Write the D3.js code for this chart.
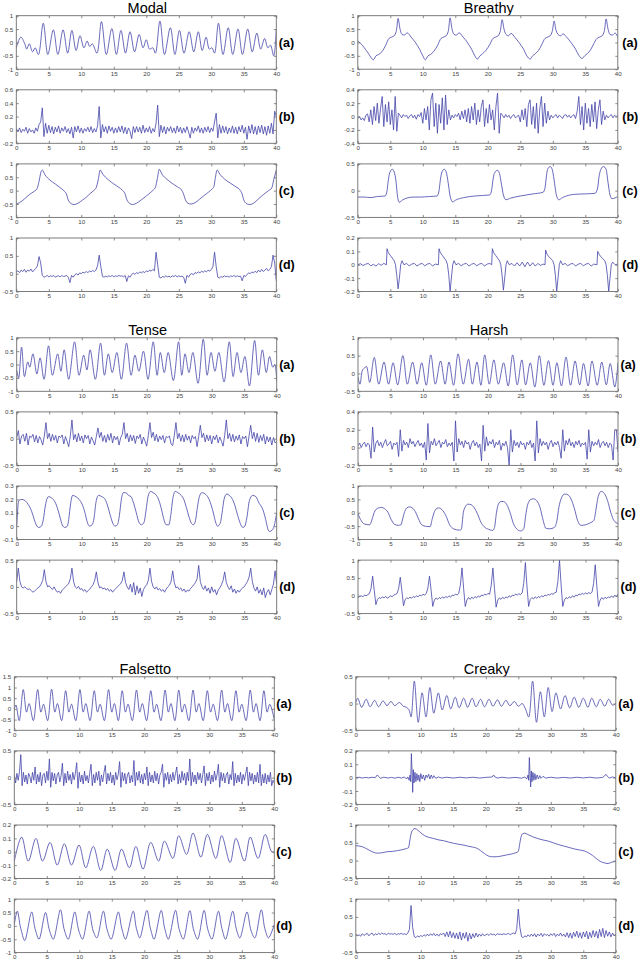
<!DOCTYPE html>
<html><head><meta charset="utf-8">
<script src="https://cdn.jsdelivr.net/npm/d3@7"></script>
<style>body{margin:0;background:#fff}svg{display:block}</style>
</head><body><svg id="c" width="640" height="964"></svg>
<script>
const xTicks = [0,5,10,15,20,25,30,35,40];
const groupTitles = ["Modal","Breathy","Tense","Harsh","Falsetto","Creaky"];
const panelLabels = ["(a)","(b)","(c)","(d)"];

const modalTicks = [[-1,-0.5,0,0.5,1],[-0.2,0,0.2,0.4,0.6],[-1,-0.5,0,0.5,1],[-0.5,0,0.5,1]];
const breathyTicks = [[-1,-0.5,0,0.5,1],[-0.4,-0.2,0,0.2,0.4],[-0.5,0,0.5],[-0.2,-0.1,0,0.1,0.2]];
const tenseTicks = [[-1,-0.5,0,0.5,1],[-0.5,0,0.5],[-0.1,0,0.1,0.2,0.3],[-0.5,0,0.5]];
const harshTicks = [[-0.5,0,0.5,1],[-0.2,0,0.2,0.4],[-1,-0.5,0,0.5,1],[-0.5,0,0.5,1]];
const falsettoTicks = [[-1,-0.5,0,0.5,1,1.5],[-0.5,0,0.5],[-0.2,-0.1,0,0.1,0.2],[-1,-0.5,0,0.5,1]];
const creakyTicks = [[-0.5,0,0.5],[-0.2,-0.1,0,0.1,0.2],[-0.5,0,0.5,1],[-0.5,0,0.5,1]];

// ---- Modal ----
const modalA = [[0,-0.2],[0.7,0.2],[1.3,-0.05],[1.6,-0.25],[2.0,-0.05],[2.5,-0.35],[2.9,-0.2],[3.4,-0.45],[4.15,0.72],[4.85,-0.45],[5.7,0.47],[6.4,-0.45],[7.2,0.47],[7.9,-0.4],[8.55,0.45],[9.2,-0.3],[9.8,0.25],[10.4,-0.2],[10.9,0.05],[11.3,-0.15],[11.7,-0.05],[12.4,-0.4],[13.1,0.78],[13.85,-0.45],[14.7,0.52],[15.4,-0.45],[16.1,0.45],[16.8,-0.4],[17.5,0.4],[18.2,-0.35],[18.9,0.3],[19.5,-0.2],[20.0,0.1],[20.5,-0.25],[21.0,-0.2],[21.4,-0.4],[22.1,0.8],[22.8,-0.45],[23.7,0.55],[24.4,-0.45],[25.1,0.45],[25.8,-0.4],[26.6,0.4],[27.3,-0.35],[28.0,0.4],[28.6,-0.3],[29.2,0.2],[29.7,-0.25],[30.1,-0.2],[30.5,-0.4],[31.1,0.72],[31.8,-0.45],[32.6,0.55],[33.3,-0.45],[34.1,0.5],[34.8,-0.45],[35.6,0.5],[36.3,-0.35],[37.0,0.35],[37.6,-0.25],[38.2,0.15],[38.7,-0.2],[39.1,-0.1],[39.6,-0.5],[40,0.5]];
const modalB = [0.02,-0.03,0.03,-0.04,0.01,-0.02,0.04,-0.05,0.02,-0.03,
0.0,-0.05,0.03,-0.02,0.08,0.12,0.33,-0.1,0.1,-0.05,
0.07,-0.04,0.05,-0.06,0.04,-0.03,0.06,-0.05,0.03,-0.02,
0.05,-0.04,0.02,-0.06,0.04,-0.12,0.05,-0.03,0.06,-0.04,
0.03,-0.05,0.02,-0.02,0.04,-0.03,0.05,-0.04,0.02,-0.03,
0.06,0.35,-0.12,0.08,-0.03,0.05,-0.05,0.06,-0.02,0.04,
-0.05,0.03,-0.04,0.05,-0.03,0.06,-0.05,0.04,-0.06,0.03,
-0.02,-0.13,0.05,-0.04,0.05,-0.03,0.04,-0.05,0.07,-0.04,
0.03,-0.03,0.05,-0.05,0.02,-0.03,0.1,0.37,-0.1,0.07,
-0.04,0.05,-0.06,0.04,-0.02,0.05,-0.04,0.03,-0.05,0.06,
-0.03,0.04,-0.05,0.03,-0.04,0.05,-0.03,-0.12,0.04,-0.05,
0.03,-0.02,0.06,-0.04,0.03,-0.05,0.04,-0.03,0.05,-0.04,
0.03,-0.02,0.12,0.25,-0.12,0.08,-0.05,0.06,-0.04,0.05,
-0.06,0.03,-0.04,0.06,-0.05,0.04,-0.06,0.05,-0.03,0.07,
-0.05,0.04,-0.14,0.06,-0.05,0.08,-0.06,0.05,-0.07,0.06,
-0.04,0.07,-0.06,0.05,-0.08,0.06,-0.05,0.1,-0.06,0.28,
0.2];
const modalC = [[0,-0.49],[0.5,-0.45],[1.3,-0.3],[2.0,-0.15],[2.6,-0.05],[3.2,0.08],[3.5,0.35],[3.8,0.7],[4.0,0.77],[4.4,0.6],[5.2,0.39],[6.0,0.25],[6.7,0.12],[7.3,0.0],[7.7,-0.12],[8.0,-0.35],[8.4,-0.48],[8.9,-0.52],[9.5,-0.47],[10.2,-0.35],[10.8,-0.24],[11.4,-0.1],[11.9,0.0],[12.3,0.12],[12.6,0.4],[12.9,0.77],[13.3,0.62],[14.2,0.4],[15.0,0.25],[15.8,0.12],[16.3,0.02],[16.7,-0.1],[17.0,-0.33],[17.4,-0.47],[17.9,-0.52],[18.5,-0.47],[19.2,-0.35],[19.9,-0.22],[20.6,-0.08],[21.1,0.03],[21.4,0.12],[21.7,0.45],[22.0,0.8],[22.4,0.62],[23.2,0.42],[24.0,0.27],[24.8,0.14],[25.4,0.03],[25.7,-0.1],[26.0,-0.33],[26.4,-0.47],[26.9,-0.5],[27.5,-0.45],[28.2,-0.32],[28.9,-0.18],[29.6,-0.05],[30.1,0.06],[30.4,0.15],[30.6,0.45],[30.9,0.77],[31.3,0.62],[32.1,0.42],[33.0,0.27],[33.8,0.14],[34.4,0.03],[34.7,-0.1],[35.0,-0.35],[35.4,-0.48],[35.9,-0.52],[36.5,-0.47],[37.2,-0.32],[38.0,-0.15],[38.8,0.0],[39.3,0.1],[39.6,0.4],[40,0.77]];
const modalD = [0.05,0.08,0.03,0.1,0.06,0.12,0.04,0.1,0.07,0.13,
0.05,0.1,0.15,0.22,0.48,0.3,-0.05,-0.1,-0.08,-0.05,
-0.09,-0.06,-0.08,-0.05,-0.1,-0.07,-0.06,-0.09,-0.05,-0.08,
-0.07,-0.05,-0.1,-0.25,-0.05,-0.1,-0.03,0.0,-0.04,0.02,
0.0,0.04,0.02,0.06,0.03,0.07,0.05,0.09,0.06,0.1,
0.22,0.52,0.2,-0.08,-0.1,-0.07,-0.09,-0.06,-0.08,-0.05,
-0.09,-0.06,-0.08,-0.05,-0.07,-0.06,-0.09,-0.05,-0.22,-0.06,
-0.1,-0.02,0.01,-0.02,0.03,0.0,0.05,0.02,0.06,0.03,
0.08,0.05,0.1,0.07,0.12,0.08,0.6,0.25,-0.1,-0.12,
-0.08,-0.1,-0.06,-0.09,-0.07,-0.1,-0.06,-0.08,-0.05,-0.09,
-0.06,-0.08,-0.07,-0.1,-0.27,-0.05,-0.1,-0.02,0.0,-0.03,
0.03,0.01,0.05,0.02,0.07,0.04,0.08,0.05,0.1,0.07,
0.12,0.2,0.6,0.2,-0.1,-0.12,-0.08,-0.1,-0.06,-0.09,
-0.07,-0.1,-0.06,-0.08,-0.05,-0.09,-0.06,-0.08,-0.07,-0.2,
-0.05,-0.08,-0.02,0.02,0.0,0.05,0.02,0.07,0.03,0.1,
0.05,0.12,0.06,0.1,0.15,0.08,0.12,0.2,0.52,0.3,
-0.2];

// ---- Breathy ----
const breathyA = [[0,0.05],[0.5,-0.05],[1.0,-0.2],[1.6,-0.4],[2.0,-0.55],[2.4,-0.65],[2.8,-0.5],[3.2,-0.45],[3.7,-0.35],[4.3,-0.1],[4.8,0.15],[5.2,0.2],[5.6,0.25],[5.9,0.4],[6.2,0.9],[6.5,0.5],[6.8,0.3],[7.2,0.28],[7.6,0.36],[8.2,0.2],[8.8,0.02],[9.5,-0.25],[10.0,-0.5],[10.4,-0.65],[10.8,-0.5],[11.2,-0.45],[11.7,-0.33],[12.3,-0.1],[12.8,0.15],[13.2,0.2],[13.6,0.25],[13.9,0.4],[14.2,0.92],[14.5,0.5],[14.8,0.3],[15.2,0.28],[15.6,0.36],[16.2,0.2],[16.8,0.02],[17.5,-0.25],[18.0,-0.5],[18.4,-0.62],[18.8,-0.5],[19.2,-0.42],[19.7,-0.3],[20.3,-0.08],[20.8,0.15],[21.2,0.2],[21.6,0.25],[21.9,0.4],[22.2,0.85],[22.5,0.5],[22.8,0.3],[23.2,0.25],[23.6,0.34],[24.2,0.18],[24.8,0.0],[25.5,-0.25],[26.0,-0.5],[26.5,-0.62],[26.9,-0.5],[27.3,-0.42],[27.8,-0.3],[28.3,-0.08],[28.8,0.15],[29.2,0.2],[29.6,0.25],[29.9,0.4],[30.2,0.8],[30.5,0.45],[30.8,0.3],[31.2,0.25],[31.6,0.32],[32.2,0.18],[32.8,0.0],[33.5,-0.25],[34.0,-0.48],[34.5,-0.6],[34.9,-0.5],[35.3,-0.42],[35.8,-0.28],[36.3,-0.05],[36.8,0.15],[37.2,0.2],[37.6,0.25],[37.9,0.4],[38.2,0.88],[38.5,0.5],[38.8,0.3],[39.2,0.28],[39.6,0.35],[40,0.2]];
const breathyB = [-0.03,0.0,-0.05,-0.02,-0.06,0.02,0.04,-0.08,0.1,-0.12,
0.15,-0.06,0.2,-0.1,0.12,0.3,-0.15,0.18,-0.08,0.22,
-0.12,0.1,-0.2,0.3,-0.22,0.05,0.02,-0.02,0.03,0.0,
0.02,-0.03,0.01,0.03,-0.02,0.02,-0.04,0.03,0.0,0.06,
-0.1,0.12,-0.05,0.15,-0.2,0.25,0.35,-0.15,0.2,-0.25,
0.18,-0.1,0.28,-0.2,0.32,-0.12,0.1,-0.05,0.02,-0.02,
0.03,0.0,0.05,-0.05,0.08,-0.03,0.1,-0.08,0.12,-0.1,
0.15,-0.05,0.2,-0.12,0.1,-0.08,0.15,0.25,-0.15,0.12,
-0.1,0.18,-0.05,0.1,-0.2,0.15,0.35,-0.25,0.05,0.02,
-0.02,0.03,-0.01,0.02,-0.03,0.01,0.03,-0.02,0.0,0.02,
-0.08,0.1,-0.05,0.12,-0.15,0.18,0.25,-0.12,0.15,-0.18,
0.2,-0.25,0.12,0.3,-0.15,0.2,-0.1,0.08,-0.05,0.02,
-0.02,0.01,0.03,-0.02,0.02,0.0,-0.03,0.02,0.03,-0.01,
0.02,-0.02,0.01,0.03,-0.03,0.08,0.3,-0.12,0.15,-0.2,
0.2,-0.1,0.12,-0.15,0.18,-0.08,0.22,-0.18,0.1,0.25,
-0.12,0.08,-0.05,0.02,-0.02,0.01,0.03,-0.02,0.02,0.0,
0.02];
const breathyC = [[0,-0.12],[1,-0.12],[2,-0.13],[3,-0.11],[4.2,-0.1],[4.5,0.0],[4.7,0.2],[4.9,0.33],[5.3,0.4],[5.6,0.35],[5.9,0.15],[6.1,-0.1],[6.4,-0.22],[6.8,-0.18],[7.5,-0.14],[8.5,-0.12],[9.6,-0.12],[11,-0.11],[12.2,-0.1],[12.5,0.0],[12.7,0.2],[12.9,0.33],[13.3,0.4],[13.6,0.35],[13.9,0.15],[14.2,-0.1],[14.6,-0.21],[15.0,-0.18],[16.3,-0.13],[18,-0.1],[20.3,-0.08],[20.6,0.02],[20.8,0.2],[21.0,0.32],[21.5,0.38],[21.8,0.32],[22.1,0.12],[22.4,-0.08],[22.8,-0.17],[23.5,-0.14],[25,-0.1],[27,-0.06],[28.5,-0.03],[28.8,0.05],[29.0,0.25],[29.2,0.4],[29.6,0.45],[29.9,0.4],[30.2,0.2],[30.5,-0.05],[30.9,-0.17],[31.5,-0.13],[33.2,-0.07],[35,-0.06],[36.5,-0.05],[36.9,0.05],[37.1,0.25],[37.4,0.4],[37.8,0.45],[38.2,0.4],[38.5,0.15],[38.8,-0.08],[39.1,-0.15],[40,-0.11]];
const breathyD = [[0,0],[0.4,0.008],[0.8,-0.006],[1.2,0.004],[1.6,0.01],[2.0,-0.008],[2.4,0.003],[2.8,-0.01],[3.2,0.008],[3.6,-0.004],[4.0,0.01],[4.4,0.0],
[4.5,0.12],[4.7,0.09],[5.0,0.07],[5.3,0.05],[5.6,0.03],[5.8,0.0],[6.0,-0.08],[6.2,-0.18],[6.4,-0.1],[6.6,0.0],[6.8,0.03],[7.1,0.0],[7.5,0.01],[7.9,-0.008],[8.3,0.005],[8.7,0.01],[9.1,-0.01],[9.5,0.004],[9.9,0.01],[10.3,-0.008],[10.7,0.005],[11.1,0.01],[11.5,-0.01],[11.9,0.005],[12.4,0.0],
[12.5,0.12],[12.7,0.09],[13.0,0.07],[13.3,0.05],[13.6,0.03],[13.8,0.0],[14.0,-0.08],[14.2,-0.2],[14.4,-0.1],[14.6,0.0],[14.8,0.03],[15.1,0.0],[15.5,0.01],[15.9,-0.008],[16.3,0.005],[16.7,0.01],[17.1,-0.01],[17.5,0.004],[17.9,0.01],[18.3,-0.008],[18.7,0.005],[19.1,0.01],[19.5,-0.01],[19.9,0.005],[20.3,0.01],[20.6,0.0],
[20.7,0.12],[20.9,0.09],[21.2,0.07],[21.5,0.05],[21.8,0.03],[22.0,0.0],[22.2,-0.08],[22.4,-0.19],[22.6,-0.1],[22.8,0.0],[23.0,0.03],[23.3,0.0],[23.7,0.01],[24.1,-0.01],[24.5,0.015],[24.9,-0.01],[25.3,0.02],[25.7,-0.015],[26.1,0.02],[26.5,-0.01],[26.9,0.015],[27.3,-0.01],[27.7,0.01],[28.1,-0.005],[28.5,0.005],[28.8,0.0],
[28.9,0.11],[29.1,0.08],[29.4,0.06],[29.7,0.045],[30.0,0.03],[30.2,0.0],[30.4,-0.08],[30.6,-0.2],[30.8,-0.1],[31.0,0.0],[31.2,0.03],[31.5,0.0],[31.9,0.01],[32.3,-0.008],[32.7,0.005],[33.1,0.01],[33.5,-0.01],[33.9,0.004],[34.3,0.01],[34.7,-0.008],[35.1,0.005],[35.5,0.01],[35.9,-0.01],[36.3,0.005],[36.8,0.0],
[36.9,0.1],[37.1,0.08],[37.4,0.06],[37.7,0.045],[38.0,0.03],[38.2,0.0],[38.4,-0.08],[38.6,-0.2],[38.8,-0.1],[39.0,0.0],[39.2,0.02],[39.6,0.0],[40,0.005]];

// ---- Tense ----
const tenseA = [[0,-0.2],[0.3,-0.5],[0.75,0.65],[1.2,-0.45],[1.7,0.1],[2.0,-0.1],[2.5,0.4],[3.1,-0.35],[3.6,0.25],[4.2,-0.55],[4.9,0.7],[5.5,-0.4],[6.3,0.4],[6.8,-0.25],[7.3,0.55],[8.0,-0.55],[8.9,0.85],[9.6,-0.4],[10.3,0.35],[10.8,-0.2],[11.3,0.55],[12.1,-0.55],[12.9,0.8],[13.5,-0.4],[14.1,0.4],[14.7,-0.3],[15.4,0.45],[16.1,-0.55],[16.9,0.8],[17.6,-0.4],[18.2,0.35],[18.8,-0.25],[19.5,0.5],[20.2,-0.55],[21.0,0.85],[21.6,-0.4],[22.1,0.45],[22.7,-0.3],[23.3,0.45],[24.1,-0.6],[24.9,0.85],[25.4,-0.4],[25.9,0.4],[26.5,-0.3],[27.1,0.45],[27.9,-0.7],[28.7,0.95],[29.3,-0.4],[29.9,0.45],[30.5,-0.25],[31.1,0.45],[31.9,-0.65],[32.7,0.85],[33.3,-0.45],[33.9,0.45],[34.5,-0.3],[35.1,0.3],[35.8,-0.8],[36.6,0.9],[37.2,-0.4],[37.8,0.55],[38.4,-0.3],[38.9,0.3],[39.4,-0.1],[39.7,0.0],[40,-0.6]];
const tenseB = [0.02,0.15,-0.1,0.05,0.08,-0.05,0.1,-0.12,0.05,0.02,
0.08,-0.06,0.06,-0.08,0.04,-0.02,-0.12,0.05,0.3,0.0,
0.1,-0.05,0.08,-0.03,0.06,-0.08,0.05,0.02,0.07,-0.1,
0.04,-0.05,-0.15,0.05,0.35,-0.02,0.08,-0.06,0.1,-0.04,
0.05,-0.08,0.07,0.0,0.06,-0.1,0.03,-0.04,-0.12,0.04,
0.2,0.02,0.12,-0.05,0.06,-0.07,0.08,-0.03,0.1,-0.08,
0.05,-0.02,0.04,-0.12,0.02,0.08,0.3,0.0,0.1,-0.06,
0.07,-0.04,0.06,-0.09,0.05,0.0,0.08,-0.1,0.03,-0.05,
-0.14,0.06,0.3,0.02,0.12,-0.04,0.08,-0.06,0.05,-0.02,
0.06,-0.08,0.04,0.02,0.05,-0.1,-0.13,0.06,0.3,0.0,
0.1,-0.05,0.07,-0.06,0.08,-0.03,0.05,-0.08,0.06,0.0,
0.04,-0.15,0.04,0.25,0.02,0.1,-0.06,0.07,-0.04,0.06,
-0.1,0.05,-0.02,0.07,-0.08,0.03,-0.05,-0.14,0.06,0.35,
0.0,0.1,-0.05,0.08,-0.06,0.05,-0.03,0.07,-0.1,0.04,
0.0,0.05,-0.15,0.05,0.25,0.0,0.12,-0.05,0.1,-0.07,
0.06,-0.04,0.08,-0.1,0.04,-0.06,0.03,-0.12,0.02,-0.08,
-0.05];
const tenseC = [[0,0.0],[0.15,0.12],[0.3,0.19],[0.8,0.2],[1.3,0.19],[1.8,0.16],[2.3,0.11],[2.7,0.05],[3.0,0.01],[3.4,-0.01],[3.8,0.0],[4.1,0.05],[4.4,0.15],[4.7,0.21],[4.9,0.22],[5.4,0.21],[5.9,0.18],[6.3,0.13],[6.7,0.06],[7.0,0.01],[7.4,-0.01],[7.8,0.0],[8.0,0.05],[8.3,0.17],[8.6,0.23],[9.1,0.22],[9.6,0.2],[10.1,0.16],[10.5,0.1],[10.8,0.04],[11.2,0.0],[11.6,0.01],[11.9,0.06],[12.2,0.18],[12.6,0.23],[13.1,0.22],[13.6,0.2],[14.0,0.15],[14.4,0.08],[14.8,0.02],[15.1,0.0],[15.5,0.01],[15.8,0.08],[16.1,0.2],[16.4,0.25],[16.8,0.25],[17.2,0.23],[17.6,0.22],[18.0,0.17],[18.4,0.1],[18.8,0.03],[19.2,0.01],[19.6,0.03],[19.9,0.12],[20.2,0.22],[20.6,0.26],[21.0,0.25],[21.5,0.23],[21.9,0.19],[22.3,0.12],[22.7,0.04],[23.0,0.01],[23.4,0.01],[23.7,0.08],[24.0,0.2],[24.4,0.26],[24.8,0.25],[25.3,0.23],[25.7,0.2],[26.1,0.14],[26.5,0.07],[26.9,0.02],[27.2,0.01],[27.5,0.04],[27.8,0.14],[28.1,0.22],[28.5,0.25],[29.0,0.24],[29.5,0.21],[29.9,0.16],[30.3,0.09],[30.6,0.03],[30.9,0.0],[31.3,0.02],[31.6,0.1],[31.9,0.2],[32.3,0.24],[32.7,0.23],[33.2,0.2],[33.6,0.15],[34.0,0.08],[34.4,0.02],[34.8,-0.01],[35.1,0.0],[35.4,0.06],[35.8,0.19],[36.3,0.23],[36.8,0.22],[37.3,0.17],[37.6,0.15],[37.9,0.12],[38.3,0.05],[38.7,-0.03],[38.9,-0.04],[39.3,-0.03],[39.6,0.0],[40,0.1]];
const tenseD = [0.1,0.35,0.1,0.0,-0.02,0.0,-0.03,-0.05,-0.04,-0.07,
-0.1,-0.08,-0.05,-0.02,0.0,0.05,0.12,0.32,0.1,0.0,
0.02,-0.02,-0.05,0.0,-0.06,-0.1,-0.08,-0.12,-0.06,-0.03,
0.0,0.03,0.06,0.15,0.35,0.1,0.0,-0.03,0.01,-0.05,
-0.03,-0.08,-0.05,-0.1,-0.07,-0.04,0.0,0.04,0.12,0.28,
0.08,-0.02,0.0,-0.04,-0.02,-0.06,-0.03,-0.08,-0.05,-0.1,
-0.06,-0.03,0.0,0.03,0.06,0.12,0.28,0.08,0.0,-0.05,
0.05,-0.1,0.08,-0.15,0.02,-0.12,-0.02,-0.18,-0.05,0.0,
0.04,0.12,0.35,0.1,0.0,-0.04,0.0,-0.06,-0.03,-0.08,
-0.05,-0.1,-0.04,0.0,0.03,0.1,0.3,0.08,-0.02,0.0,
-0.05,-0.02,-0.08,-0.04,-0.1,-0.06,-0.08,-0.03,0.0,0.04,
0.08,0.15,0.4,0.1,0.0,-0.05,0.02,-0.08,-0.02,-0.12,
0.0,-0.1,-0.05,-0.15,-0.06,-0.02,0.04,0.12,0.28,0.08,
0.0,-0.05,0.02,-0.1,-0.04,-0.12,-0.06,-0.1,-0.05,-0.02,
0.0,0.05,0.1,0.18,0.35,0.1,-0.02,-0.08,0.0,-0.12,
-0.05,-0.15,-0.02,-0.2,-0.1,-0.05,-0.15,-0.05,0.05,0.3,
0.05];

// ---- Harsh ----
const harshA = [[0,-0.1],[0.3,-0.3],[0.7,0.1],[1.0,0.15],[1.3,0.2],[1.8,-0.25],[2.5,0.45],[3.2,-0.3],[4.0,0.32],[4.7,-0.3],[5.4,0.3],[6.1,-0.32],[6.9,0.5],[7.6,-0.3],[8.4,0.32],[9.1,-0.3],[9.8,0.3],[10.5,-0.33],[11.2,0.52],[11.9,-0.3],[12.7,0.35],[13.4,-0.3],[14.0,0.32],[14.7,-0.33],[15.4,0.55],[16.2,-0.3],[17.0,0.4],[17.6,-0.3],[18.3,0.32],[18.9,-0.33],[19.5,0.52],[20.2,-0.3],[20.9,0.38],[21.6,-0.3],[22.4,0.3],[23.1,-0.35],[23.8,0.52],[24.5,-0.32],[25.2,0.38],[25.8,-0.32],[26.5,0.3],[27.2,-0.38],[27.9,0.5],[28.6,-0.33],[29.3,0.36],[30.0,-0.33],[30.6,0.3],[31.3,-0.35],[32.0,0.46],[32.7,-0.33],[33.4,0.35],[34.1,-0.32],[34.7,0.28],[35.4,-0.35],[36.0,0.35],[36.8,-0.33],[37.5,0.32],[38.2,-0.32],[38.8,0.28],[39.5,-0.38],[40,0.3]];
const harshB = [0.02,0.05,0.0,0.04,0.06,0.01,0.05,0.03,-0.12,0.23,
-0.05,0.05,0.08,0.02,0.06,0.0,0.05,0.09,0.02,0.04,
0.07,-0.02,0.05,0.03,0.06,-0.1,0.2,-0.04,0.08,0.03,
0.06,0.0,0.1,0.04,0.07,0.01,0.05,0.08,0.02,0.05,
0.0,0.06,-0.14,0.27,-0.06,0.07,0.03,0.1,0.02,0.05,
0.08,0.0,0.06,0.04,0.09,0.01,0.05,0.02,0.06,-0.15,
0.3,-0.05,0.1,0.03,0.07,0.0,0.08,0.04,0.06,-0.02,
0.05,0.08,0.02,0.06,0.0,0.04,-0.15,0.25,-0.04,0.12,
0.02,0.07,0.04,0.09,0.0,0.06,0.03,0.08,-0.03,0.05,
0.02,0.07,0.0,-0.2,0.2,-0.05,0.08,0.02,0.06,0.0,
0.07,0.03,0.05,-0.02,0.06,0.03,0.08,0.0,0.05,-0.15,
0.3,-0.06,0.1,0.02,0.07,0.03,0.06,-0.02,0.05,0.08,
0.01,0.06,0.03,0.07,0.0,-0.12,0.2,-0.04,0.08,0.03,
0.1,0.02,0.06,0.0,0.07,0.03,0.08,0.01,0.05,0.03,
0.06,-0.13,0.2,-0.05,0.07,0.02,0.06,0.03,0.09,0.0,
0.05,0.07,0.02,0.06,0.0,0.05,0.03,-0.14,0.2,0.2,
-0.05];
const harshC = [[0,-0.04],[0.5,-0.3],[1.0,-0.42],[1.8,-0.45],[2.1,-0.3],[2.4,-0.05],[2.8,0.13],[3.3,0.19],[3.6,0.2],[4.1,0.15],[4.6,0.02],[5.1,-0.25],[5.6,-0.43],[6.2,-0.47],[6.6,-0.45],[6.9,-0.2],[7.2,0.05],[7.5,0.18],[7.9,0.22],[8.3,0.19],[8.8,0.05],[9.3,-0.22],[9.8,-0.45],[10.5,-0.51],[11.1,-0.52],[11.4,-0.25],[11.7,0.0],[12.0,0.14],[12.4,0.18],[12.9,0.12],[13.5,-0.1],[14.1,-0.45],[14.7,-0.6],[15.6,-0.65],[15.9,-0.62],[16.2,0.0],[16.5,0.22],[16.9,0.32],[17.4,0.3],[17.9,0.18],[18.4,-0.05],[18.9,-0.35],[19.4,-0.52],[20.1,-0.62],[20.7,-0.66],[21.0,-0.55],[21.3,0.0],[21.6,0.32],[22.0,0.42],[22.4,0.42],[22.9,0.3],[23.4,0.0],[23.9,-0.4],[24.4,-0.6],[25.0,-0.68],[25.5,-0.6],[25.8,-0.1],[26.1,0.3],[26.6,0.5],[27.0,0.52],[27.5,0.45],[28.0,0.2],[28.5,-0.3],[28.9,-0.58],[29.5,-0.6],[30.2,-0.55],[30.6,-0.3],[30.9,0.2],[31.3,0.55],[31.8,0.7],[32.3,0.67],[32.8,0.5],[33.3,0.15],[33.8,-0.3],[34.3,-0.47],[35.0,-0.45],[35.7,-0.38],[36.3,-0.28],[36.6,0.1],[36.9,0.55],[37.4,0.8],[37.9,0.72],[38.4,0.45],[38.9,0.0],[39.4,-0.3],[40,-0.4]];
const harshD = [-0.05,-0.02,0.0,-0.03,0.02,0.0,0.03,0.06,0.2,0.55,
0.15,-0.25,-0.1,-0.05,-0.08,-0.03,-0.06,-0.02,-0.07,-0.04,
0.0,-0.03,0.02,0.04,0.06,0.2,0.52,0.15,-0.28,-0.1,
-0.06,-0.08,-0.04,-0.07,-0.02,-0.05,0.0,-0.03,0.02,0.0,
0.04,0.02,0.06,0.22,0.55,0.15,-0.3,-0.12,-0.06,-0.1,
-0.05,-0.08,-0.03,-0.07,-0.02,-0.05,0.0,-0.04,0.02,0.0,
0.05,0.02,0.07,0.3,0.78,0.2,-0.3,-0.12,-0.05,-0.1,
-0.04,-0.08,-0.02,-0.06,0.0,-0.04,0.02,0.0,0.05,0.02,
0.07,0.04,0.3,0.78,0.2,-0.32,-0.12,-0.06,-0.1,-0.04,
-0.08,-0.03,-0.06,0.0,-0.04,0.02,0.0,0.05,0.02,0.06,
0.03,0.08,0.35,0.93,0.25,-0.3,-0.1,-0.05,-0.09,-0.03,
-0.07,-0.02,-0.05,0.0,-0.03,0.02,0.0,0.04,0.02,0.06,
0.04,0.08,0.1,0.4,1.0,0.3,-0.3,-0.12,-0.05,-0.08,
-0.03,-0.06,0.0,-0.04,0.02,0.0,0.05,0.03,0.07,0.04,
0.08,0.05,0.09,0.06,0.1,0.35,0.87,0.25,-0.3,-0.12,
-0.05,-0.1,-0.04,-0.08,-0.03,-0.06,0.0,-0.05,0.02,-0.03,
0.05];

// ---- Falsetto ----
const falsettoA = [[0,0.0],[0.25,0.18],[0.75,-0.55],[1.38,0.9],
[1.88,-0.15],[2.28,0.25],[2.93,-0.55],[3.59,0.9],
[4.09,-0.15],[4.49,0.22],[5.12,-0.55],[5.74,0.92],
[6.24,-0.15],[6.64,0.25],[7.28,-0.55],[7.9,0.85],
[8.4,-0.15],[8.8,0.22],[9.45,-0.55],[10.1,0.9],
[10.6,-0.15],[11.0,0.25],[11.65,-0.55],[12.3,0.85],
[12.8,-0.15],[13.2,0.22],[13.85,-0.55],[14.5,0.9],
[15.0,-0.15],[15.4,0.25],[16.0,-0.55],[16.6,0.85],
[17.1,-0.15],[17.5,0.22],[18.15,-0.55],[18.8,0.88],
[19.3,-0.15],[19.7,0.25],[20.35,-0.55],[21.0,0.85],
[21.5,-0.15],[21.9,0.22],[22.55,-0.55],[23.2,0.88],
[23.7,-0.15],[24.1,0.25],[24.7,-0.55],[25.3,0.88],
[25.8,-0.15],[26.2,0.22],[26.85,-0.55],[27.5,0.88],
[28.0,-0.15],[28.4,0.25],[29.05,-0.55],[29.7,0.85],
[30.2,-0.15],[30.6,0.22],[31.25,-0.55],[31.9,0.88],
[32.4,-0.15],[32.8,0.25],[33.45,-0.55],[34.1,0.85],
[34.6,-0.15],[35.0,0.22],[35.65,-0.55],[36.3,0.88],
[36.8,-0.15],[37.2,0.25],[37.8,-0.55],[38.4,0.85],
[38.9,-0.15],[39.3,0.22],[40,-0.5]];
const falsettoB = [0.05,-0.1,0.08,-0.05,0.12,0.43,-0.15,0.1,-0.08,0.05,
-0.12,0.08,0.02,-0.1,0.1,-0.05,0.2,-0.12,0.06,-0.08,
0.1,-0.15,0.05,0.08,-0.1,0.12,-0.05,0.35,-0.18,0.1,
-0.06,0.08,-0.12,0.05,0.1,-0.08,0.04,0.27,-0.15,0.08,
-0.1,0.12,-0.05,0.06,-0.12,0.1,-0.04,0.08,0.28,-0.2,
0.1,-0.08,0.05,-0.12,0.12,-0.06,0.04,-0.1,0.08,0.25,
-0.15,0.06,-0.1,0.1,-0.05,0.12,-0.15,0.05,-0.08,0.1,
0.23,-0.12,0.08,-0.06,0.1,-0.1,0.05,-0.14,0.1,-0.04,
0.06,0.3,-0.18,0.1,-0.06,0.08,-0.12,0.05,0.1,-0.1,
0.04,-0.08,0.32,-0.15,0.1,-0.05,0.12,-0.1,0.06,-0.12,
0.08,-0.04,0.2,-0.15,0.1,-0.08,0.05,-0.1,0.12,-0.06,
0.08,-0.12,0.05,0.1,0.25,-0.18,0.08,-0.05,0.1,-0.12,
0.06,-0.08,0.1,-0.05,0.08,0.2,-0.12,0.06,-0.1,0.12,
-0.05,0.08,-0.14,0.1,-0.06,0.35,-0.15,0.1,-0.08,0.05,
-0.12,0.1,-0.04,0.08,-0.1,0.06,0.22,-0.15,0.08,-0.06,
0.1,-0.12,0.05,-0.08,0.12,-0.05,0.06,0.25,-0.18,0.1,
-0.06,0.08,-0.1,0.05,0.1,-0.12,0.06,-0.04,0.3,-0.15,
0.08,-0.1,0.05,-0.08,0.1,-0.12,0.06,-0.05,0.08,0.2,
-0.15,0.1,-0.06,0.08,-0.12,0.05,-0.08,0.1,-0.1,0.25,
-0.15,0.06,-0.1,0.08,-0.12,0.05,-0.08,0.1,-0.15,-0.05,-0.1];
const falsettoC = [[0,-0.07],[1.13,0.11],[2.15,-0.07],[3.33,0.1],[4.35,-0.07],[5.5,0.07],[6.6,-0.1],[7.7,0.06],[8.8,-0.1],[9.95,0.05],[11.0,-0.12],[12.15,0.04],[13.3,-0.14],[14.3,0.02],[15.5,-0.14],[16.5,0.02],[17.7,-0.12],[18.7,0.04],[19.8,-0.13],[21.0,0.07],[22.2,-0.07],[23.1,0.08],[24.4,-0.05],[25.3,0.12],[26.5,-0.02],[27.5,0.14],[28.7,-0.04],[29.7,0.13],[31.0,-0.05],[31.9,0.12],[33.2,-0.08],[34.1,0.1],[35.4,-0.07],[36.3,0.11],[37.5,-0.05],[38.6,0.13],[39.6,0.0],[40,0.0]];
const falsettoD = [[0,0.05],[0.46,0.55],[0.9,0.0],[1.1,-0.2],[1.6,-0.55],[2.67,0.52],[3.1,0.0],[3.3,-0.2],[3.8,-0.5],[4.8,0.5],[5.25,0.0],[5.45,-0.2],[6.0,-0.5],[7.1,0.6],[7.55,0.0],[7.75,-0.2],[8.3,-0.5],[9.3,0.52],[9.75,0.0],[9.95,-0.2],[10.5,-0.5],[11.5,0.55],[11.95,0.0],[12.15,-0.2],[12.7,-0.45],[13.7,0.55],[14.15,0.0],[14.35,-0.2],[14.9,-0.5],[16.0,0.52],[16.45,0.0],[16.65,-0.2],[17.1,-0.5],[18.3,0.55],[18.7,0.0],[18.9,-0.2],[19.3,-0.45],[20.4,0.58],[20.85,0.0],[21.05,-0.2],[21.5,-0.5],[22.6,0.58],[23.05,0.0],[23.25,-0.2],[23.7,-0.5],[24.8,0.58],[25.25,0.0],[25.45,-0.2],[26.0,-0.5],[27.0,0.57],[27.45,0.0],[27.65,-0.2],[28.2,-0.5],[29.2,0.58],[29.65,0.0],[29.85,-0.2],[30.4,-0.5],[31.4,0.55],[31.85,0.0],[32.05,-0.2],[32.5,-0.5],[33.6,0.55],[34.05,0.0],[34.25,-0.2],[34.7,-0.45],[35.8,0.52],[36.25,0.0],[36.45,-0.2],[37.0,-0.45],[38.0,0.6],[38.45,0.0],[38.65,-0.2],[39.1,-0.45],[40,0.05]];

// ---- Creaky ----
const creakyA = [[0,0.02],[0.3,0.1],[0.9,-0.07],[1.6,0.08],[2.2,-0.06],[2.9,0.06],[3.5,-0.06],[4.2,0.05],[4.8,-0.04],[5.4,0.04],[6.0,-0.04],[6.7,0.02],[7.3,-0.05],[7.8,-0.07],[8.2,-0.12],[8.5,-0.25],[9.0,0.42],[9.6,-0.35],[10.2,0.2],[10.8,-0.25],[11.4,0.3],[12.0,-0.18],[12.7,0.2],[13.3,-0.12],[14.0,0.15],[14.6,-0.1],[15.3,0.12],[15.9,-0.08],[16.6,0.1],[17.2,-0.07],[17.9,0.1],[18.5,-0.06],[19.2,0.08],[19.8,-0.06],[20.5,0.08],[21.1,-0.05],[21.8,0.07],[22.4,-0.05],[23.1,0.06],[23.7,-0.04],[24.4,0.04],[25.0,-0.05],[25.6,0.0],[26.1,-0.1],[26.6,-0.25],[27.2,0.42],[27.8,-0.35],[28.4,0.22],[29.0,-0.25],[29.6,0.3],[30.2,-0.15],[30.8,0.2],[31.5,-0.1],[32.2,0.15],[32.9,-0.08],[33.6,0.12],[34.3,-0.07],[35.0,0.1],[35.7,-0.07],[36.3,0.1],[37.0,-0.06],[37.6,0.08],[38.3,-0.05],[38.9,0.08],[39.5,-0.03],[40,0.0]];
const creakyB = [[0,0],[0.5,0.003],[1,-0.003],[1.5,0.002],[2,-0.002],[2.5,0.003],[3,0.0],[3.3,0.02],[3.5,0.01],[3.8,-0.005],[4.3,0.003],[5,-0.003],[5.5,0.002],[6,-0.004],[6.5,0.003],[7,-0.003],[7.5,0.005],[7.8,-0.01],[8.0,0.005],[8.2,-0.02],[8.35,0.02],[8.45,-0.03],[8.55,0.18],[8.65,0.05],[8.75,-0.11],[8.85,0.06],[8.95,-0.04],[9.1,0.04],[9.25,-0.03],[9.4,0.03],[9.55,-0.02],[9.7,0.02],[9.85,-0.03],[10.0,0.03],[10.2,-0.01],[10.4,0.02],[10.6,-0.02],[10.8,0.02],[11.0,0.0],[11.2,0.025],[11.4,-0.01],[11.6,0.02],[11.8,-0.005],[12.0,0.015],[12.3,-0.005],[12.7,0.005],[13.2,-0.003],[14,0.003],[15,-0.003],[16,0.003],[17,-0.002],[18,0.003],[19,-0.003],[20,0.002],[21,0.005],[21.2,0.02],[21.4,0.005],[21.8,-0.003],[22.5,0.003],[23.5,-0.003],[24.5,0.002],[25.5,-0.004],[26,0.005],[26.3,-0.01],[26.5,0.02],[26.6,-0.02],[26.7,0.15],[26.8,0.03],[26.9,-0.07],[27.0,0.05],[27.1,-0.03],[27.25,0.04],[27.4,-0.02],[27.55,0.03],[27.7,-0.015],[27.9,0.02],[28.1,-0.01],[28.3,0.015],[28.5,-0.005],[28.8,0.01],[29.2,-0.003],[30,0.003],[31,-0.003],[32,0.002],[33,-0.003],[34,0.003],[35,-0.002],[36,0.003],[37,-0.003],[38,0.002],[38.5,0.025],[38.7,0.01],[39,-0.003],[39.5,0.005],[40,-0.002]];
const creakyC = [[0,0.42],[0.8,0.4],[1.5,0.35],[2.2,0.28],[2.8,0.23],[3.3,0.21],[4.0,0.22],[4.8,0.25],[5.6,0.26],[6.4,0.28],[7.2,0.31],[7.8,0.34],[8.1,0.36],[8.3,0.55],[8.5,0.75],[8.8,0.87],[9.1,0.9],[9.5,0.86],[10.0,0.78],[10.6,0.7],[11.3,0.65],[12.0,0.62],[12.8,0.58],[13.5,0.56],[14.3,0.52],[15.0,0.49],[15.8,0.46],[16.5,0.44],[17.2,0.41],[18.0,0.38],[18.6,0.35],[19.2,0.28],[19.8,0.2],[20.4,0.13],[21.0,0.11],[21.6,0.11],[22.4,0.13],[23.2,0.16],[24.0,0.19],[24.6,0.22],[25.0,0.26],[25.2,0.45],[25.4,0.65],[25.7,0.76],[26.0,0.77],[26.5,0.73],[27.2,0.67],[28.0,0.62],[28.8,0.58],[29.6,0.55],[30.4,0.5],[31.2,0.45],[32.0,0.41],[32.8,0.37],[33.6,0.33],[34.4,0.3],[35.2,0.27],[35.8,0.22],[36.4,0.15],[37.0,0.06],[37.6,-0.02],[38.2,-0.06],[38.8,-0.08],[39.4,-0.04],[40,-0.02]];
const creakyD = [0.02,-0.03,0.0,-0.04,0.03,-0.02,0.01,0.04,-0.03,0.02,
0.05,-0.02,0.03,0.0,0.04,0.01,0.05,0.02,0.03,0.0,
0.04,0.02,0.03,0.01,0.04,0.0,0.03,0.02,0.04,0.01,
0.03,0.0,0.05,0.15,0.82,0.2,-0.05,-0.08,-0.03,-0.06,
-0.02,-0.05,0.0,-0.04,0.02,-0.03,0.03,-0.02,0.04,-0.03,
0.02,-0.04,0.03,0.0,0.05,-0.05,0.08,-0.06,0.1,-0.08,
0.06,-0.1,0.05,-0.12,0.08,-0.15,0.05,-0.1,0.07,-0.18,
0.04,-0.12,0.03,-0.08,0.05,-0.06,0.02,-0.04,0.03,-0.03,
0.0,0.02,-0.02,0.03,0.0,0.02,-0.02,0.03,0.01,0.02,
0.0,0.03,0.01,0.02,0.04,0.0,0.03,0.05,0.02,0.15,
0.72,0.2,-0.05,-0.08,-0.03,-0.06,0.0,-0.05,0.02,-0.04,
0.03,-0.06,0.02,-0.03,0.04,-0.05,0.03,-0.02,0.01,-0.04,
0.03,-0.02,0.04,-0.05,0.02,-0.03,0.05,-0.04,0.02,-0.06,
0.06,-0.08,0.05,-0.1,0.07,-0.05,0.1,-0.08,0.06,-0.1,
0.08,-0.06,0.1,-0.12,0.07,-0.08,0.12,-0.06,0.1,-0.1,
0.15,-0.05,0.18,-0.08,0.12,-0.04,0.08,-0.06,0.05,-0.03,0.02];

// ---------- drawing ----------
const W = 260, H = 53.5, STEP = 74.1;
const LINE = "#4444aa", FRAME = "#6e6e6e", TXT = "#444";
const FONT = "'Liberation Sans', Arial, sans-serif";
const groups = [
  {series:[modalA,modalB,modalC,modalD], yt:modalTicks, curves:["cr","lin","mono","lin"], x:16.3, top:15.7, lab:2.5},
  {series:[breathyA,breathyB,breathyC,breathyD], yt:breathyTicks, curves:["cr","lin","mono","lin"], x:357.8, top:15.7, lab:4.5},
  {series:[tenseA,tenseB,tenseC,tenseD], yt:tenseTicks, curves:["cr","lin","mono","lin"], x:16.7, top:337.8, lab:2.5},
  {series:[harshA,harshB,harshC,harshD], yt:harshTicks, curves:["cr","lin","mono","lin"], x:358, top:337.8, lab:2.5},
  {series:[falsettoA,falsettoB,falsettoC,falsettoD], yt:falsettoTicks, curves:["cr","lin","cr","cr"], x:14.3, top:676.8, lab:2},
  {series:[creakyA,creakyB,creakyC,creakyD], yt:creakyTicks, curves:["cr","lin","mono","lin"], x:355.8, top:676.8, lab:2.5}
];
const curveMap = {cr: d3.curveCatmullRom.alpha(0.5), lin: d3.curveLinear, mono: d3.curveMonotoneX};
const svg = d3.select("#c");

groups.forEach((g, gi) => {
  svg.append("text")
    .attr("x", g.x + W/2 + 1).attr("y", g.top - 2.4)
    .attr("text-anchor", "middle")
    .style("font-family", FONT).style("font-size", "14.5px").attr("fill", "#000")
    .text(groupTitles[gi]);

  g.series.forEach((data, pi) => {
    const top = g.top + pi * STEP;
    const ticks = g.yt[pi];
    const x = d3.scaleLinear().domain([0, 40]).range([g.x, g.x + W]);
    const y = d3.scaleLinear().domain([ticks[0], ticks[ticks.length - 1]]).range([top + H, top]);
    const pts = (typeof data[0] === "number") ? data.map((v, i) => [i * 40 / (data.length - 1), v]) : data;

    svg.append("rect").attr("x", g.x).attr("y", top).attr("width", W).attr("height", H).attr("fill", "#fff");

    const cid = "clip" + gi + "_" + pi;
    svg.append("clipPath").attr("id", cid).append("rect")
      .attr("x", g.x).attr("y", top).attr("width", W).attr("height", H);

    svg.append("path").datum(pts)
      .attr("clip-path", "url(#" + cid + ")")
      .attr("fill", "none").attr("stroke", LINE).attr("stroke-width", 0.8)
      .attr("stroke-linejoin", "round")
      .attr("d", d3.line().x(d => x(d[0])).y(d => y(d[1])).curve(curveMap[g.curves[pi]]));

    const styleAxis = sel => {
      sel.select(".domain").remove();
      sel.selectAll(".tick line").attr("stroke", FRAME).attr("stroke-width", 0.8);
      sel.selectAll(".tick text").attr("fill", TXT).style("font-family", FONT).style("font-size", "6.2px");
    };
    svg.append("g").attr("transform", "translate(0," + (top + H) + ")")
      .call(d3.axisBottom(x).tickValues(xTicks).tickSize(-2.5).tickPadding(2.2).tickFormat(d => String(d)))
      .call(styleAxis);
    svg.append("g").attr("transform", "translate(0," + top + ")")
      .call(d3.axisTop(x).tickValues(xTicks).tickSize(-2.5).tickFormat(""))
      .call(styleAxis);
    svg.append("g").attr("transform", "translate(" + g.x + ",0)")
      .call(d3.axisLeft(y).tickValues(ticks).tickSize(-2.5).tickPadding(3).tickFormat(d => String(d)))
      .call(styleAxis);
    svg.append("g").attr("transform", "translate(" + (g.x + W) + ",0)")
      .call(d3.axisRight(y).tickValues(ticks).tickSize(-2.5).tickFormat(""))
      .call(styleAxis);

    svg.append("rect").attr("x", g.x).attr("y", top).attr("width", W).attr("height", H)
      .attr("fill", "none").attr("stroke", FRAME).attr("stroke-width", 0.9);

    svg.append("text")
      .attr("x", g.x + W + g.lab).attr("y", top + H/2).attr("dy", "0.36em")
      .style("font-family", FONT).style("font-size", "12.5px").style("font-weight", "bold")
      .attr("fill", "#000")
      .text(panelLabels[pi]);
  });
});
</script></body></html>
